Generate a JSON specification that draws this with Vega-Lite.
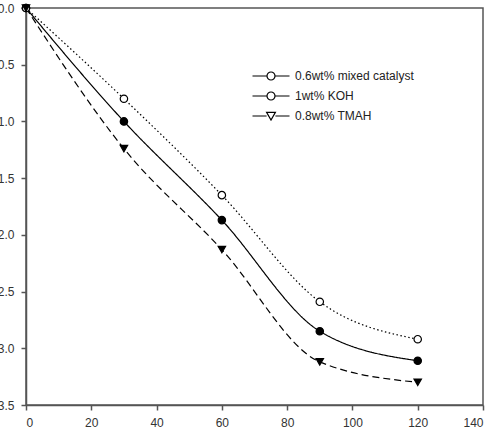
{
  "$schema": "https://vega.github.io/schema/vega-lite/v6.json",
  "width": 457,
  "height": 397,
  "autosize": "none",
  "padding": {"left": 26, "top": 8, "right": 8, "bottom": 31},
  "background": "white",
  "config": {
    "view": {"stroke": "#555", "strokeWidth": 1.5},
    "axis": {"grid": false, "domainColor": "#555", "domainWidth": 1.5, "tickColor": "#555", "tickWidth": 1.5, "tickSize": 5, "labelFont": "Liberation Sans", "labelFontSize": 12, "labelColor": "#333", "labelPadding": 7, "title": null},
    "legend": {"labelFont": "Liberation Sans", "labelFontSize": 12, "labelColor": "#222"}
  },
  "data": {"values": [
    {"t": 0, "v": 0.0, "s": "0.6wt% mixed catalyst"},
    {"t": 30, "v": 1.0, "s": "0.6wt% mixed catalyst"},
    {"t": 60, "v": 1.87, "s": "0.6wt% mixed catalyst"},
    {"t": 90, "v": 2.85, "s": "0.6wt% mixed catalyst"},
    {"t": 120, "v": 3.11, "s": "0.6wt% mixed catalyst"},
    {"t": 0, "v": 0.0, "s": "1wt% KOH"},
    {"t": 30, "v": 0.8, "s": "1wt% KOH"},
    {"t": 60, "v": 1.65, "s": "1wt% KOH"},
    {"t": 90, "v": 2.59, "s": "1wt% KOH"},
    {"t": 120, "v": 2.92, "s": "1wt% KOH"},
    {"t": 0, "v": 0.0, "s": "0.8wt% TMAH"},
    {"t": 30, "v": 1.24, "s": "0.8wt% TMAH"},
    {"t": 60, "v": 2.13, "s": "0.8wt% TMAH"},
    {"t": 90, "v": 3.12, "s": "0.8wt% TMAH"},
    {"t": 120, "v": 3.30, "s": "0.8wt% TMAH"}
  ]},
  "encoding": {
    "x": {"field": "t", "type": "quantitative", "scale": {"domain": [0, 140], "nice": false, "zero": false}, "axis": {"values": [0, 20, 40, 60, 80, 100, 120, 140]}},
    "y": {"field": "v", "type": "quantitative", "scale": {"domain": [0, 3.5], "reverse": true, "nice": false}, "axis": {"values": [0, 0.5, 1, 1.5, 2, 2.5, 3, 3.5], "format": ".1f"}}
  },
  "resolve": {"scale": {"shape": "independent"}},
  "layer": [
    {
      "mark": {"type": "line", "interpolate": "monotone", "color": "black", "strokeWidth": 1.2},
      "encoding": {
        "strokeDash": {
          "field": "s", "type": "nominal",
          "scale": {"domain": ["0.6wt% mixed catalyst", "1wt% KOH", "0.8wt% TMAH"], "range": [[1, 0], [1.5, 2.5], [7, 4]]},
          "legend": null
        },
        "detail": {"field": "s"}
      }
    },
    {
      "mark": {"type": "point", "filled": false, "stroke": "black", "strokeWidth": 1.2, "opacity": 1},
      "encoding": {
        "shape": {"field": "s", "type": "nominal", "scale": {"domain": ["0.6wt% mixed catalyst", "1wt% KOH", "0.8wt% TMAH"], "range": ["circle", "circle", "triangle-down"]}, "legend": null},
        "fill": {"field": "s", "type": "nominal", "scale": {"domain": ["0.6wt% mixed catalyst", "1wt% KOH", "0.8wt% TMAH"], "range": ["black", "white", "black"]}, "legend": null},
        "size": {"value": 55}
      }
    },
    {
      "mark": {"type": "point", "filled": false, "stroke": "black", "strokeWidth": 1.2, "opacity": 0},
      "encoding": {
        "shape": {
          "field": "s", "type": "nominal",
          "scale": {"domain": ["0.6wt% mixed catalyst", "1wt% KOH", "0.8wt% TMAH"], "range": [
            "M-9.25,0H-2M2,0H9.25M2,0A2,2,0,1,1,-2,0A2,2,0,1,1,2,0Z",
            "M-9.25,0H-2M2,0H9.25M2,0A2,2,0,1,1,-2,0A2,2,0,1,1,2,0Z",
            "M-9.25,0H-2.2M2.2,0H9.25M-2.2,-1.85H2.2L0,2Z"
          ]},
          "legend": {
            "orient": "none", "legendX": 239, "legendY": 62, "title": null, "padding": 0,
            "symbolSize": 16, "symbolOpacity": 1, "symbolStrokeColor": "black", "symbolStrokeWidth": 1.2, "labelOffset": 18, "rowPadding": 6,
            "encode": {"symbols": {
              "stroke": {"value": "black"},
              "strokeWidth": {"value": 1.2}
            }}
          }
        }
      }
    }
  ]
}
